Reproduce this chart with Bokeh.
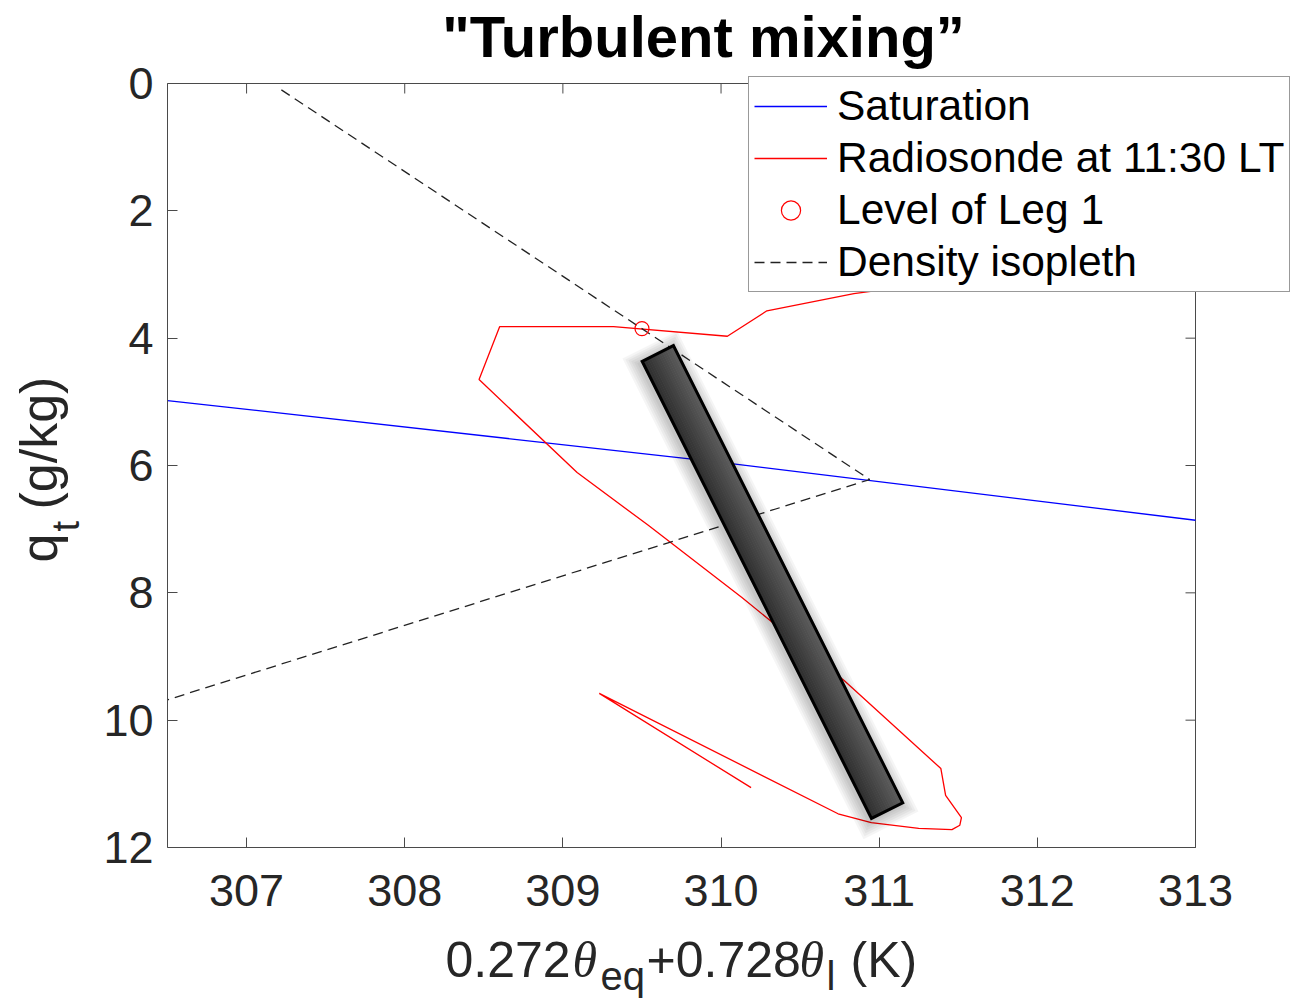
import math
from bokeh.plotting import figure
from bokeh.models import Range1d, FixedTicker, LinearAxis, Legend, LegendItem, Label
from bokeh.embed import file_html
from bokeh.resources import INLINE

# ---------------- data ----------------
X_TICKS = [307, 308, 309, 310, 311, 312, 313]
Y_TICKS = [0, 2, 4, 6, 8, 10, 12]

SAT_THETA = [306.5, 310.0, 313.0]
SAT_QT = [4.98, 5.95, 6.86]

SONDE_THETA = [310.19, 309.23, 310.74, 310.95, 311.25, 311.46, 311.51, 311.52, 311.42, 311.39,
               310.78, 310.13, 309.54, 309.09, 308.47, 308.60, 309.32, 310.04, 310.29, 310.84, 311.60]
SONDE_QT = [11.06, 9.58, 11.47, 11.61, 11.70, 11.72, 11.65, 11.53, 11.18, 10.76,
            9.38, 8.07, 6.94, 6.11, 4.65, 3.82, 3.82, 3.97, 3.57, 3.30, 3.05]

LEG1_THETA = [309.50]
LEG1_QT = [3.85]

ISO_THETA = [307.22, 310.94, 306.5]
ISO_QT = [0.10, 6.22, 9.68]

MIX_THETA = [309.60, 311.05]
MIX_QT = [4.24, 11.42]

# ---------------- layout ----------------
W, H = 1297, 1001
X0, X1 = 306.5, 313.0          # axes box limits
Y0, Y1 = 0.0, 12.0
FL, FT, FW, FH = 167, 83, 1028, 764   # axes box in pixels
KX = FW / (X1 - X0)
KY = FH / (Y1 - Y0)


def dx(px):
    return X0 + (px - FL) / KX


def dy(py):
    return Y0 + (py - FT) / KY


p = figure(width=W, height=H, frame_width=W, frame_height=H, min_border=0,
           x_range=Range1d(dx(0), dx(W)), y_range=Range1d(dy(H), dy(0)),
           x_axis_location=None, y_axis_location=None,
           output_backend="svg", toolbar_location=None, title=None)
p.grid.visible = False
p.background_fill_color = "white"
p.border_fill_color = "white"
p.outline_line_color = None

AX_COL = "#4a4a4a"
LBL_COL = "#262626"
FONT = "Liberation Sans"
TICK_LEN = 10


def style_axis(ax, ticks, standoff):
    ax.ticker = FixedTicker(ticks=ticks)
    ax.axis_line_color = AX_COL
    ax.axis_line_width = 1
    ax.major_tick_line_color = AX_COL
    ax.major_tick_line_width = 1
    ax.major_tick_in = TICK_LEN
    ax.major_tick_out = 0
    ax.minor_tick_line_color = None
    ax.major_label_text_font = FONT
    ax.major_label_text_color = LBL_COL
    ax.major_label_text_font_size = "45px"
    ax.major_label_standoff = standoff


xax = LinearAxis(fixed_location=Y1, bounds=(X0, X1))
yax = LinearAxis(fixed_location=X0, bounds=(Y0, Y1))
style_axis(xax, X_TICKS, 27)
style_axis(yax, Y_TICKS, 14)
p.add_layout(xax, "below")
p.add_layout(yax, "left")

# box top/right edges with mirrored inward ticks
p.line([X0, X1, X1], [Y0, Y0, Y1], line_color=AX_COL, line_width=1)
p.segment(x0=X_TICKS, y0=[Y0] * len(X_TICKS), x1=X_TICKS,
          y1=[Y0 + TICK_LEN / KY] * len(X_TICKS), line_color=AX_COL, line_width=1)
p.segment(x0=[X1 - TICK_LEN / KX] * len(Y_TICKS), y0=Y_TICKS, x1=[X1] * len(Y_TICKS),
          y1=Y_TICKS, line_color=AX_COL, line_width=1)

# ---------------- glyphs ----------------
r_sat = p.line(SAT_THETA, SAT_QT, line_color="#0000ff", line_width=1.3)
r_sonde = p.line(SONDE_THETA, SONDE_QT, line_color="#ff0000", line_width=1.3)
r_iso = p.line(ISO_THETA, ISO_QT, line_color="#222222", line_width=1.3, line_dash="10 6")
r_leg = p.scatter(LEG1_THETA, LEG1_QT, marker="circle", size=14, fill_color=None,
                  line_color="#ff0000", line_width=1.2)

# mixing bar (drawn through data coordinates, widened in screen space)
BAR_W = 35.0
sx0, sy0 = (MIX_THETA[0] - X0) * KX, (MIX_QT[0] - Y0) * KY
sx1, sy1 = (MIX_THETA[1] - X0) * KX, (MIX_QT[1] - Y0) * KY
L = math.hypot(sx1 - sx0, sy1 - sy0)
ux, uy = (sx1 - sx0) / L, (sy1 - sy0) / L
nx, ny = uy, -ux


def to_data(sx, sy):
    return X0 + sx / KX, Y0 + sy / KY


def quad(o_a, o_b, ext=0.0, shx=0.0, shy=0.0):
    pts = [
        (sx0 - ux * ext + nx * o_a + shx, sy0 - uy * ext + ny * o_a + shy),
        (sx1 + ux * ext + nx * o_a + shx, sy1 + uy * ext + ny * o_a + shy),
        (sx1 + ux * ext + nx * o_b + shx, sy1 + uy * ext + ny * o_b + shy),
        (sx0 - ux * ext + nx * o_b + shx, sy0 - uy * ext + ny * o_b + shy),
    ]
    d = [to_data(a, b) for a, b in pts]
    return [q[0] for q in d], [q[1] for q in d]


# soft shadow
for k in range(6, 0, -1):
    e = k * 2.2
    xs, ys = quad(-BAR_W / 2 - e, BAR_W / 2 + e, ext=e, shx=-2, shy=3)
    p.patch(xs, ys, fill_color="black", fill_alpha=0.04, line_color=None)

# gradient body
N = 16


def lerp_col(t):
    a = (0x2e, 0x2e, 0x2e)
    b = (0x5e, 0x5e, 0x5e)
    c = [int(round(a[i] + (b[i] - a[i]) * t)) for i in range(3)]
    return "#%02x%02x%02x" % tuple(c)


for i in range(N):
    oa = -BAR_W / 2 + BAR_W * i / N
    ob = -BAR_W / 2 + BAR_W * (i + 1) / N + 0.6
    xs, ys = quad(oa, min(ob, BAR_W / 2))
    p.patch(xs, ys, fill_color=lerp_col((i + 0.5) / N), line_color=None)

xs, ys = quad(-BAR_W / 2, BAR_W / 2)
p.patch(xs, ys, fill_color=None, line_color="black", line_width=3, line_join="miter")

# ---------------- legend ----------------
legend = Legend(items=[
    LegendItem(label="Saturation", renderers=[r_sat]),
    LegendItem(label="Radiosonde at 11:30 LT", renderers=[r_sonde]),
    LegendItem(label="Level of Leg 1", renderers=[r_leg]),
    LegendItem(label="Density isopleth", renderers=[r_iso]),
], location=(748, H - 292), orientation="vertical",
    glyph_width=73, glyph_height=48, label_height=48, spacing=4, padding=5,
    label_standoff=10, label_text_font=FONT, label_text_font_size="42.5px",
    label_text_color="black", border_line_color="#333333", border_line_width=1,
    background_fill_color="white", background_fill_alpha=1.0, margin=0)
p.add_layout(legend)

# ---------------- texts ----------------
BSHIFT = 0.36   # renderer baseline offset correction (fraction of font size)


def add_text(txt, px, py, size, font=FONT, style="normal", angle=0.0, align="left",
             color=LBL_COL, extra=0.0, **kw):
    sh = BSHIFT * size + extra
    if angle:
        px = px - sh
    else:
        py = py - sh
    lab = Label(x=dx(px), y=dy(py), text=txt, text_font=font, text_font_size="%dpx" % size,
                text_font_style=style, text_color=color, angle=angle,
                text_align=align, text_baseline="alphabetic", **kw)
    p.add_layout(lab)
    return lab


# x label: 0.272θ_eq + 0.728θ_l (K)
XB = 977
add_text("0.272", 445, XB, 50)
add_text("θ", 572, XB, 50, font="Liberation Serif", style="italic")
add_text("eq", 600, 990, 40)
add_text("+0.728", 646, XB, 50)
add_text("θ", 799, XB, 50, font="Liberation Serif", style="italic")
add_text("l", 826, 990, 40)
add_text("(K)", 850, XB, 50)

# y label: q_t (g/kg)
add_text("q", 57, 562, 52, angle=math.pi / 2)
add_text("t", 79, 531, 38, angle=math.pi / 2)
add_text("(g/kg)", 57, 509, 52, angle=math.pi / 2)

# title
add_text('"Turbulent mixing\u201d', 703, 60, 58, style="bold", align="center",
         color="black", background_fill_color="white", padding=5, extra=3)

open("out.html", "w").write(file_html(p, INLINE))
